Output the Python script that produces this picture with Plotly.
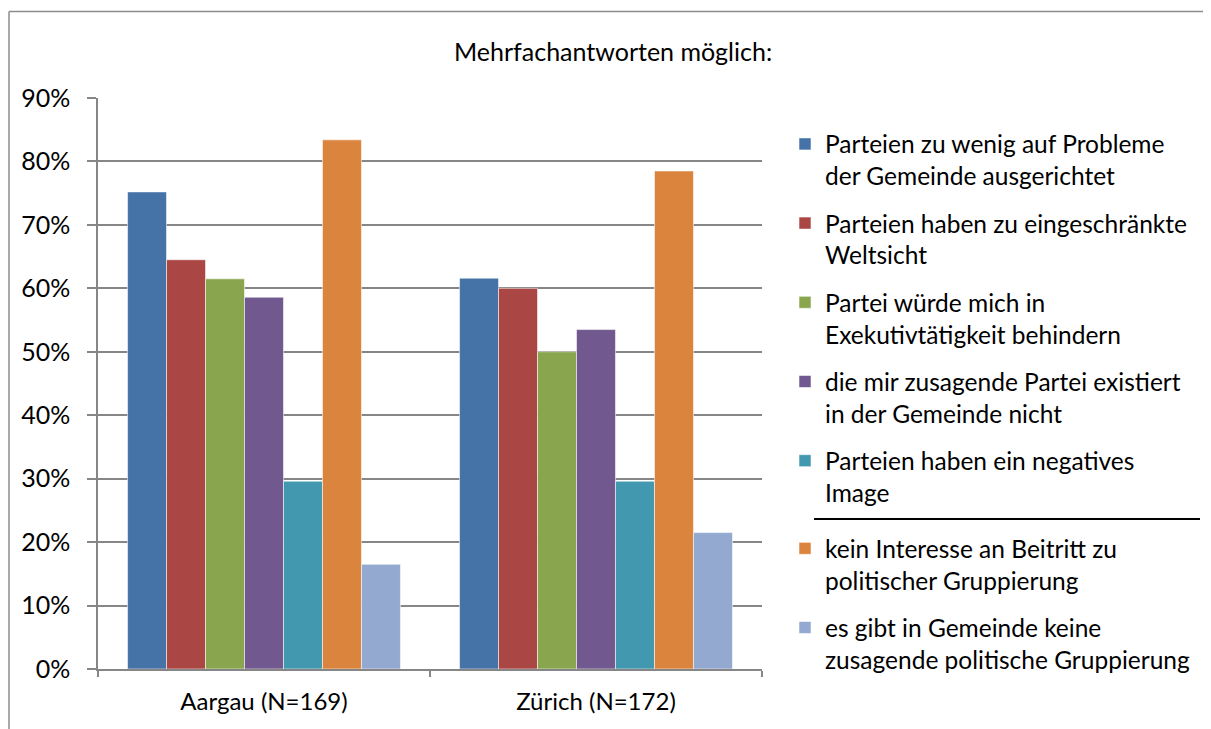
import plotly.graph_objects as go

categories = ["Aargau (N=169)", "Zürich (N=172)"]
series_names = [
    "Parteien zu wenig auf Probleme<br>der Gemeinde ausgerichtet",
    "Parteien haben zu eingeschränkte<br>Weltsicht",
    "Partei würde mich in<br>Exekutivtätigkeit behindern",
    "die mir zusagende Partei existiert<br>in der Gemeinde nicht",
    "Parteien haben ein negatives<br>Image",
    "kein Interesse an Beitritt zu<br>politischer Gruppierung",
    "es gibt in Gemeinde keine<br>zusagende politische Gruppierung",
]
aargau = [0.752, 0.645, 0.615, 0.586, 0.296, 0.834, 0.165]
zuerich = [0.616, 0.600, 0.500, 0.535, 0.296, 0.785, 0.215]
colors = ["#4572A7", "#AA4643", "#89A54E", "#71588F", "#4198AF", "#DB843D", "#93A9CF"]
y_ticks = [0, 0.1, 0.2, 0.3, 0.4, 0.5, 0.6, 0.7, 0.8, 0.9]

FONT = "Lato"
OFF = 8  # page body margin
W, H = 1211 - OFF, 729 - OFF
L, R, T, B = 98 - OFF, 762 - OFF, 97.5 - OFF, 669.3 - OFF

fig = go.Figure()
for i, name in enumerate(series_names):
    fig.add_trace(go.Bar(
        x=categories, y=[aargau[i], zuerich[i]], name=name,
        legendgroup=f"g{i}",
        legend="legend" if i < 5 else "legend2",
        marker=dict(color=colors[i], line=dict(color="rgba(255,255,255,0.55)", width=1)),
    ))

def px2paper_x(x):  # x in screen pixels
    return (x - OFF - L) / (R - L)

def px2paper_y(y):  # y in screen pixels
    return (B - (y - OFF)) / (B - T)

shapes = [
    dict(type="line", xref="paper", yref="paper",
         x0=px2paper_x(9), x1=px2paper_x(1220), y0=px2paper_y(11), y1=px2paper_y(11),
         line=dict(color="#8c8c8c", width=1.5)),
    dict(type="line", xref="paper", yref="paper",
         x0=px2paper_x(9), x1=px2paper_x(9), y0=px2paper_y(11), y1=px2paper_y(740),
         line=dict(color="#8c8c8c", width=1.5)),
    dict(type="line", xref="paper", yref="paper",
         x0=px2paper_x(814), x1=px2paper_x(1200), y0=px2paper_y(519), y1=px2paper_y(519),
         line=dict(color="black", width=2)),
]

legend_common = dict(
    xanchor="left", yanchor="top",
    font=dict(family=FONT, size=24.5, color="black"),
    valign="top", tracegroupgap=12.5, bgcolor="rgba(0,0,0,0)",
)

fig.update_layout(
    width=W, height=H,
    margin=dict(l=L, r=W - R, t=T, b=H - B, pad=0),
    paper_bgcolor="white", plot_bgcolor="white",
    font=dict(family=FONT, size=24, color="black"),
    barmode="group", bargap=0.178, bargroupgap=0,
    showlegend=True,
    legend=dict(x=px2paper_x(785), y=px2paper_y(121), **legend_common),
    legend2=dict(x=px2paper_x(785), y=px2paper_y(526), **legend_common),
    shapes=shapes,
    annotations=[dict(
        text="Mehrfachantworten möglich:", xref="paper", yref="paper",
        x=px2paper_x(613), y=px2paper_y(50), xanchor="center", yanchor="middle",
        showarrow=False, font=dict(family=FONT, size=25, color="black"),
    )],
)
fig.update_yaxes(
    range=[0, 0.9], tickvals=y_ticks, tickformat=".0%",
    showgrid=True, gridcolor="#868686", gridwidth=1.5,
    showline=True, linecolor="#868686", linewidth=1.5,
    ticks="outside", ticklen=9, tickcolor="#868686", tickwidth=1.5,
    tickfont=dict(family=FONT, size=25), zeroline=False,
    ticklabelstandoff=12,
)
fig.update_xaxes(
    showline=True, linecolor="#868686", linewidth=1.5,
    ticks="outside", ticklen=6, tickcolor="#868686", tickwidth=1.5,
    tickson="boundaries", tickfont=dict(family=FONT, size=24),
    ticklabelstandoff=10,
)

fig.write_html("out.html")
